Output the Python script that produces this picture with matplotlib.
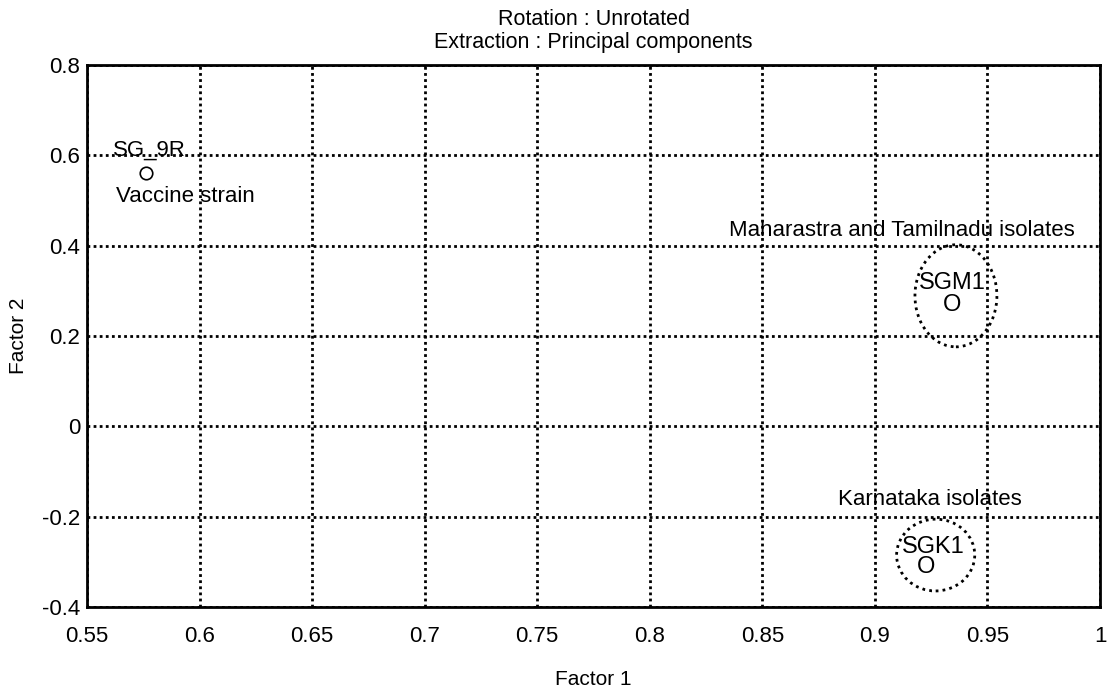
import matplotlib.pyplot as plt
from matplotlib.patches import Ellipse

plt.rcParams['font.family'] = ['Liberation Sans', 'DejaVu Sans']

# factor loadings of the three isolates
names = ['SG_9R', 'SGM1', 'SGK1']
factor1 = [0.576, 0.9343, 0.9227]
factor2 = [0.561, 0.269, -0.311]

# grouping ellipses: centre x, centre y, width, height
groups = ['Maharastra and Tamilnadu isolates', 'Karnataka isolates']
group_cx = [0.936, 0.927]
group_cy = [0.289, -0.285]
group_w = [0.0364, 0.0347]
group_h = [0.226, 0.159]

xticks = [0.55, 0.6, 0.65, 0.7, 0.75, 0.8, 0.85, 0.9, 0.95, 1.0]
xtick_labels = ['0.55', '0.6', '0.65', '0.7', '0.75', '0.8', '0.85', '0.9', '0.95', '1']
yticks = [-0.4, -0.2, 0, 0.2, 0.4, 0.6, 0.8]
ytick_labels = ['-0.4', '-0.2', '0', '0.2', '0.4', '0.6', '0.8']

fig = plt.figure(figsize=(11.12, 6.94), dpi=100)
ax = fig.add_axes([87 / 1112, 1 - 607 / 694, (1100 - 87) / 1112, (607 - 65) / 694])

ax.set_xlim(0.55, 1.0)
ax.set_ylim(-0.4, 0.8)
ax.set_xticks(xticks)
ax.set_xticklabels(xtick_labels)
ax.set_yticks(yticks)
ax.set_yticklabels(ytick_labels)
ax.tick_params(length=0, labelsize=16)
ax.tick_params(axis='x', pad=14)
ax.tick_params(axis='y', pad=5)
ax.grid(True, color='black', linestyle=(0, (1, 1.2)), linewidth=2)
ax.set_axisbelow(True)
for s in ax.spines.values():
    s.set_linewidth(2)

# SG_9R point and labels
ax.plot(factor1[0], factor2[0], 'o', mfc='white', mec='black', ms=9, mew=1.2, zorder=3)
ax.text(0.5616, 0.612, names[0], fontsize=16, ha='left', va='center', zorder=4)
ax.text(0.5629, 0.508, 'Vaccine strain', fontsize=16, ha='left', va='center', zorder=4)

# isolates drawn as 'O' with names above
for i in (1, 2):
    ax.text(factor1[i], factor2[i], 'O', fontsize=17, ha='center', va='center', zorder=4)
ax.text(0.9343, 0.317, names[1], fontsize=17, ha='center', va='center', zorder=4)
ax.text(0.9258, -0.267, names[2], fontsize=17, ha='center', va='center', zorder=4)

for j in range(2):
    ax.add_patch(Ellipse((group_cx[j], group_cy[j]), group_w[j], group_h[j], fill=False,
                         edgecolor='black', linestyle=(0, (1, 1.5)), linewidth=2, zorder=4))

ax.text(0.912, 0.4325, groups[0], fontsize=16, ha='center', va='center', zorder=4)
ax.text(0.9245, -0.163, groups[1], fontsize=16, ha='center', va='center', zorder=4)

ax.set_xlabel('Factor 1', fontsize=15, labelpad=16)
ax.set_ylabel('Factor 2', fontsize=15, labelpad=10)
ax.set_title('Rotation : Unrotated\nExtraction : Principal components', fontsize=15.5, pad=12, linespacing=1.15)

fig.savefig('out.png', dpi=100)
